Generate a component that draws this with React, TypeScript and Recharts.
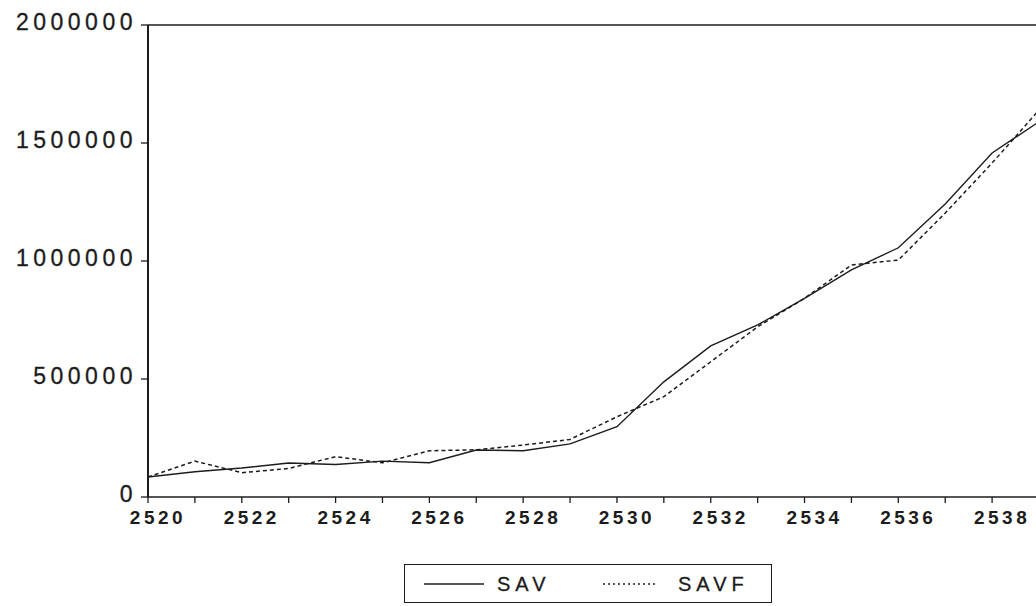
import { LineChart, Line, XAxis, YAxis, ReferenceLine } from 'recharts';

// Savings series, actual vs fitted, by Buddhist-era year
const years = [
  2520, 2521, 2522, 2523, 2524, 2525, 2526, 2527, 2528, 2529,
  2530, 2531, 2532, 2533, 2534, 2535, 2536, 2537, 2538, 2539,
];
const sav = [
  85000, 107000, 123000, 144000, 138000, 152000, 145000, 199000, 196000, 225000,
  298000, 488000, 640000, 729000, 842000, 962000, 1056000, 1242000, 1458000, 1590000,
];
const savf = [
  85000, 152000, 103000, 121000, 171000, 145000, 196000, 200000, 220000, 244000,
  340000, 425000, 573000, 721000, 842000, 983000, 1004000, 1203000, 1415000, 1640000,
];
const yTicks = [0, 500000, 1000000, 1500000, 2000000];

const data = years.map((year, i) => ({ year, SAV: sav[i], SAVF: savf[i] }));

const FONT = '"Liberation Sans", Arial, sans-serif';
const INK = '#1c1c1c';

const YTick = (props: any) => {
  const { x, y, payload } = props;
  return (
    <text
      x={x + 4}
      y={y - 3}
      textAnchor="end"
      dominantBaseline="central"
      fontFamily={FONT}
      fontSize={23}
      letterSpacing={4.5}
      fill={INK}
      stroke={INK}
      strokeWidth={0.3}
    >
      {payload.value}
    </text>
  );
};

const XTick = (props: any) => {
  const { x, y, payload } = props;
  // every year gets a tick mark, only even years get a label
  if (payload.value % 2 !== 0) return <g />;
  return (
    <text
      x={x + 10}
      y={y}
      dy="0.71em"
      textAnchor="middle"
      fontFamily={FONT}
      fontSize={19}
      fontWeight="bold"
      letterSpacing={3.5}
      fill={INK}
    >
      {payload.value}
    </text>
  );
};

const LegendBox = () => (
  <div
    style={{
      position: 'absolute',
      left: 404,
      top: 564,
      width: 366,
      height: 37,
      border: `1px solid ${INK}`,
    }}
  >
    <svg width={366} height={37} style={{ position: 'absolute', left: 0, top: 0 }}>
      <line x1={19} x2={79} y1={19} y2={19} stroke={INK} strokeWidth={1.3} />
      <text x={92} y={19} dominantBaseline="central" fontFamily={FONT} fontSize={20} letterSpacing={5} fill={INK} stroke={INK} strokeWidth={0.3}>
        SAV
      </text>
      <line x1={198} x2={250} y1={19} y2={19} stroke={INK} strokeWidth={1.3} strokeDasharray="2 3" />
      <text x={273} y={19} dominantBaseline="central" fontFamily={FONT} fontSize={20} letterSpacing={5} fill={INK} stroke={INK} strokeWidth={0.3}>
        SAVF
      </text>
    </svg>
  </div>
);

export default function App() {
  return (
    <div
      style={{
        position: 'absolute',
        left: 0,
        top: 0,
        width: 1036,
        height: 606,
        overflow: 'hidden',
        background: '#fff',
      }}
    >
      <LineChart
        width={1060}
        height={545}
        data={data}
        margin={{ top: 25, right: 21, bottom: 0, left: 0 }}
      >
        <XAxis
          dataKey="year"
          type="number"
          domain={[2520, 2539]}
          ticks={years}
          interval={0}
          height={48}
          tickSize={6}
          tickMargin={8}
          axisLine={{ stroke: INK, strokeWidth: 1.6 }}
          tickLine={{ stroke: INK, strokeWidth: 1.3 }}
          tick={<XTick />}
        />
        <YAxis
          type="number"
          domain={[0, 2000000]}
          ticks={yTicks}
          interval={0}
          width={148}
          tickSize={7}
          tickMargin={8}
          axisLine={{ stroke: INK, strokeWidth: 2 }}
          tickLine={{ stroke: INK, strokeWidth: 1.3 }}
          tick={<YTick />}
        />
        <ReferenceLine y={2000000} stroke={INK} strokeWidth={1.5} />
        <Line
          type="linear"
          dataKey="SAV"
          stroke={INK}
          strokeWidth={1.4}
          dot={false}
          isAnimationActive={false}
        />
        <Line
          type="linear"
          dataKey="SAVF"
          stroke={INK}
          strokeWidth={1.5}
          strokeDasharray="4 3"
          dot={false}
          isAnimationActive={false}
        />
      </LineChart>
      <LegendBox />
    </div>
  );
}
